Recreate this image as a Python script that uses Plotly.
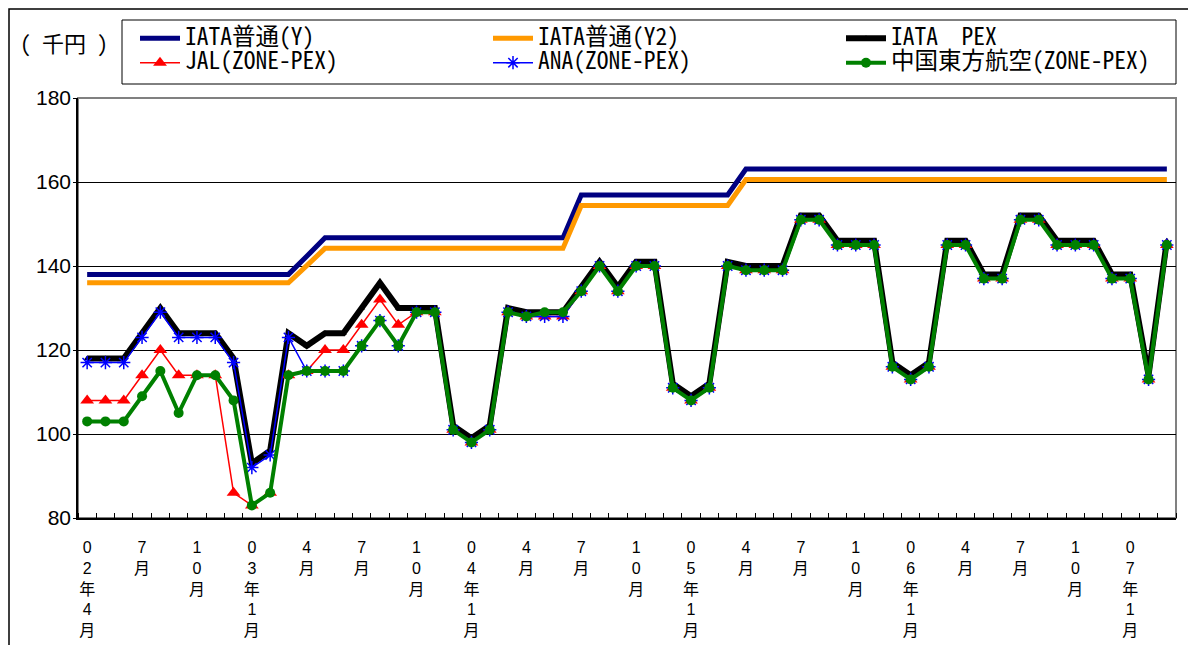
import plotly.graph_objects as go

# ---- categories (monthly, 2002-04 .. 2007-03) ----
months = ["2002-04", "2002-05", "2002-06", "2002-07", "2002-08", "2002-09", "2002-10", "2002-11", "2002-12",
          "2003-01", "2003-02", "2003-03", "2003-04", "2003-05", "2003-06", "2003-07", "2003-08", "2003-09",
          "2003-10", "2003-11", "2003-12", "2004-01", "2004-02", "2004-03", "2004-04", "2004-05", "2004-06",
          "2004-07", "2004-08", "2004-09", "2004-10", "2004-11", "2004-12", "2005-01", "2005-02", "2005-03",
          "2005-04", "2005-05", "2005-06", "2005-07", "2005-08", "2005-09", "2005-10", "2005-11", "2005-12",
          "2006-01", "2006-02", "2006-03", "2006-04", "2006-05", "2006-06", "2006-07", "2006-08", "2006-09",
          "2006-10", "2006-11", "2006-12", "2007-01", "2007-02", "2007-03"]

tick_labels = ["02年4月", "7月", "10月", "03年1月", "4月", "7月", "10月", "04年1月", "4月", "7月",
               "10月", "05年1月", "4月", "7月", "10月", "06年1月", "4月", "7月", "10月", "07年1月"]

# ---- series (千円) ----
iata_y = [138, 138, 138, 138, 138, 138, 138, 138, 138, 138, 138, 138, 142.3,
          146.7, 146.7, 146.7, 146.7, 146.7, 146.7, 146.7, 146.7, 146.7, 146.7, 146.7, 146.7, 146.7, 146.7,
          156.9, 156.9, 156.9, 156.9, 156.9, 156.9, 156.9, 156.9, 156.9,
          163.1, 163.1, 163.1, 163.1, 163.1, 163.1, 163.1, 163.1, 163.1, 163.1, 163.1, 163.1,
          163.1, 163.1, 163.1, 163.1, 163.1, 163.1, 163.1, 163.1, 163.1, 163.1, 163.1, 163.1]
iata_y2 = [136, 136, 136, 136, 136, 136, 136, 136, 136, 136, 136, 136, 140.1,
           144.2, 144.2, 144.2, 144.2, 144.2, 144.2, 144.2, 144.2, 144.2, 144.2, 144.2, 144.2, 144.2, 144.2,
           154.4, 154.4, 154.4, 154.4, 154.4, 154.4, 154.4, 154.4, 154.4,
           160.6, 160.6, 160.6, 160.6, 160.6, 160.6, 160.6, 160.6, 160.6, 160.6, 160.6, 160.6,
           160.6, 160.6, 160.6, 160.6, 160.6, 160.6, 160.6, 160.6, 160.6, 160.6, 160.6, 160.6]
iata_pex = [118, 118, 118, 124, 130, 124, 124, 124, 118, 93, 96, 124, 121, 124, 124, 130, 136, 130, 130, 130,
            102, 99, 102, 130, 129, 129, 129, 135, 141, 135, 141, 141, 112, 109, 112, 141, 140, 140, 140, 152,
            152, 146, 146, 146, 117, 114, 117, 146, 146, 138, 138, 152, 152, 146, 146, 146, 138, 138, 114, 146]
jal = [108, 108, 108, 114, 120, 114, 114, 114, 86, 83, 86, 114, 115, 120, 120, 126, 132, 126, 129, 129,
       101, 98, 101, 129, 128, 128, 128, 134, 140, 134, 140, 140, 111, 108, 111, 140, 139, 139, 139, 151,
       151, 145, 145, 145, 116, 113, 116, 145, 145, 137, 137, 151, 151, 145, 145, 145, 137, 137, 113, 145]
ana = [117, 117, 117, 123, 129, 123, 123, 123, 117, 92, 95, 123, 115, 115, 115, 121, 127, 121, 129, 129,
       101, 98, 101, 129, 128, 128, 128, 134, 140, 134, 140, 140, 111, 108, 111, 140, 139, 139, 139, 151,
       151, 145, 145, 145, 116, 113, 116, 145, 145, 137, 137, 151, 151, 145, 145, 145, 137, 137, 113, 145]
china_eastern = [103, 103, 103, 109, 115, 105, 114, 114, 108, 83, 86, 114, 115, 115, 115, 121, 127, 121, 129, 129,
                 101, 98, 101, 129, 128, 129, 129, 134, 140, 134, 140, 140, 111, 108, 111, 140, 139, 139, 139, 151,
                 151, 145, 145, 145, 116, 113, 116, 145, 145, 137, 137, 151, 151, 145, 145, 145, 137, 137, 113, 145]

x = list(range(len(months)))
tick_vals = x[::3]
tick_text = ["<br>".join(list(s)) for s in tick_labels]

JP = "Noto Sans CJK JP"
MONO = "Noto Sans Mono CJK JP, Noto Sans CJK JP"
LAT = "Liberation Sans, Noto Sans CJK JP"


def leg(s):
    return '<span style="font-size:23.5px">' + s + '</span>'


fig = go.Figure()
fig.add_trace(go.Scatter(x=x, y=iata_y, name=leg("IATA普通(Y)"), mode="lines",
                         line=dict(color="#000080", width=5)))
fig.add_trace(go.Scatter(x=x, y=iata_y2, name=leg("IATA普通(Y2)"), mode="lines",
                         line=dict(color="#FF9900", width=5)))
fig.add_trace(go.Scatter(x=x, y=iata_pex, name=leg("IATA　PEX"), mode="lines+markers",
                         line=dict(color="black", width=6),
                         marker=dict(symbol="triangle-up", size=6, color="black")))
fig.add_trace(go.Scatter(x=x, y=jal, name=leg("JAL(ZONE-PEX)"), mode="lines+markers",
                         line=dict(color="#FF0000", width=1.5),
                         marker=dict(symbol="triangle-up", size=12, color="#FF0000")))
fig.add_trace(go.Scatter(x=x, y=ana, name=leg("ANA(ZONE-PEX)"), mode="lines+markers",
                         line=dict(color="#0000FF", width=1.5),
                         marker=dict(symbol="asterisk-open", size=11, color="#0000FF",
                                     line=dict(color="#0000FF", width=1.5))))
fig.add_trace(go.Scatter(x=x, y=china_eastern, name=leg("中国東方航空(ZONE-PEX)"), mode="lines+markers",
                         line=dict(color="#008000", width=4),
                         marker=dict(symbol="circle", size=10, color="#008000")))

# page body has an 8px margin, so the figure is offset by OFF px
OFF = 8
W, H = 1196 - OFF, 645 - OFF
L = 78 - OFF
T = 98 - OFF
R = W - (1176 - OFF)
B = H - (518 - OFF)
pw, ph = W - L - R, H - T - B


def px_x(p):  # page pixel -> paper x
    return (p - OFF - L) / pw


def px_y(p):  # page pixel -> paper y
    return (H - B - (p - OFF)) / ph


fig.update_layout(
    template="none",
    width=W, height=H,
    margin=dict(l=L, r=R, t=T, b=B, autoexpand=False),
    paper_bgcolor="white", plot_bgcolor="white",
    font=dict(family=JP, color="black"),
    showlegend=True,
    legend=dict(orientation="h", x=px_x(135), y=px_y(21), xanchor="left", yanchor="top",
                borderwidth=0, bgcolor="rgba(0,0,0,0)",
                font=dict(family=MONO, size=16.5, color="black"),
                entrywidth=298, entrywidthmode="pixels", itemwidth=40, tracegroupgap=0),
    xaxis=dict(range=[-0.5, len(months) - 0.5], tickmode="array", tickvals=tick_vals, ticktext=tick_text,
               ticks="", showgrid=False, zeroline=False, showline=True, linecolor="black", linewidth=1.5,
               automargin=False,
               tickfont=dict(family=LAT, size=16, color="black"), ticklabelstandoff=14,
               minor=dict(tickmode="linear", tick0=-0.5, dtick=1, ticks="inside", ticklen=5,
                          tickcolor="black", tickwidth=1, showgrid=False)),
    yaxis=dict(range=[80, 180], tickmode="linear", tick0=80, dtick=20, showgrid=True, gridcolor="black",
               gridwidth=1, zeroline=False, showline=True, linecolor="black", linewidth=1.5,
               automargin=False,
               ticks="outside", ticklen=3, tickcolor="black", ticklabelstandoff=-2,
               tickfont=dict(family=LAT, size=21, color="black")),
    shapes=[
        dict(type="rect", xref="paper", yref="paper", x0=0, x1=1, y0=0, y1=1,
             line=dict(color="#808080", width=2), layer="between"),
        dict(type="rect", xref="paper", yref="paper", x0=px_x(9), x1=px_x(1190), y0=px_y(700), y1=px_y(9),
             line=dict(color="black", width=1.5), layer="below"),
        dict(type="rect", xref="paper", yref="paper", x0=px_x(122), x1=px_x(1176), y0=px_y(84), y1=px_y(20),
             line=dict(color="black", width=1), fillcolor="white", layer="below"),
    ],
    annotations=[
        dict(text="( 千円 )", xref="paper", yref="paper", x=px_x(18), y=px_y(42),
             xanchor="left", yanchor="middle", showarrow=False,
             font=dict(family=MONO, size=22, color="black")),
    ],
)

fig.write_html("out.html")
